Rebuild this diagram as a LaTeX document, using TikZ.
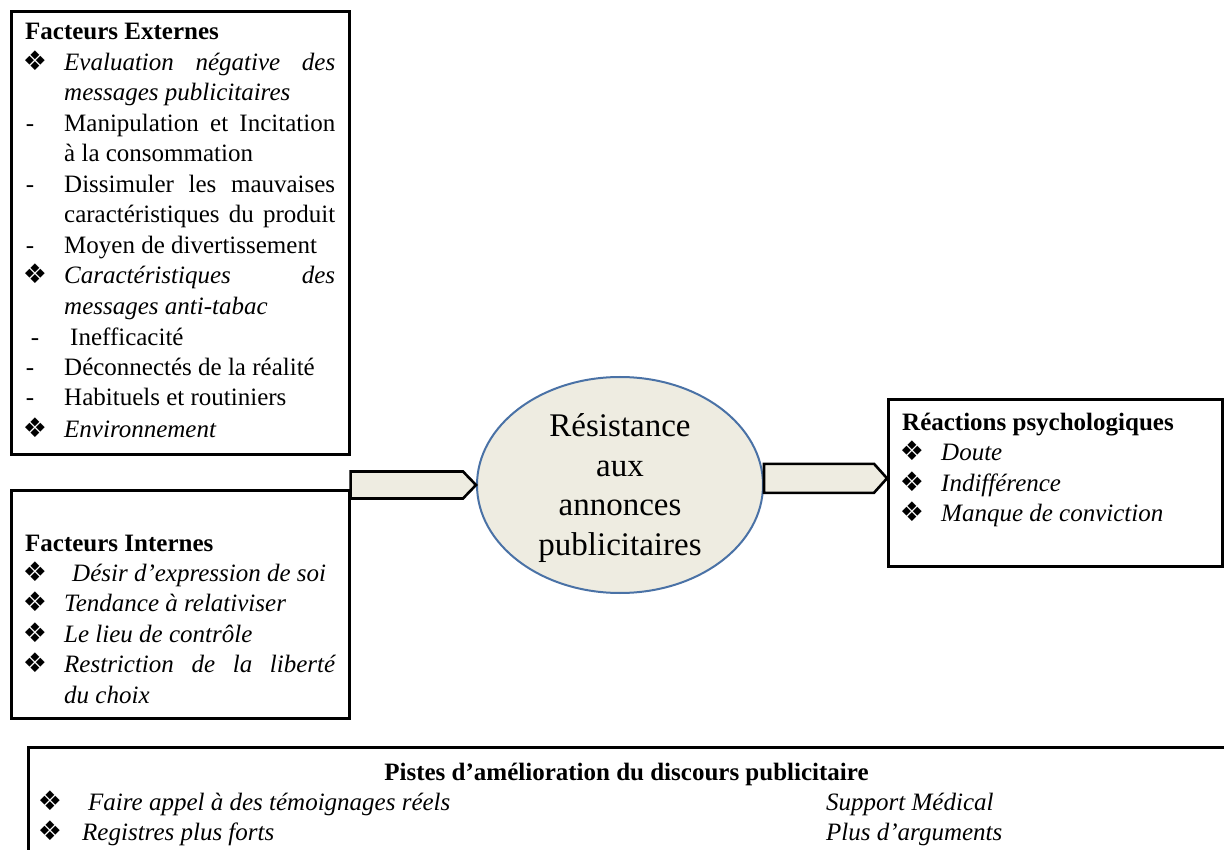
\documentclass[tikz,border=0pt]{standalone}
\usepackage{fontspec}
\usepackage{graphicx}
\setmainfont{Liberation Serif}
\newfontfamily\dv{DejaVu Sans}
\usetikzlibrary{calc,shapes.geometric}
\definecolor{beige}{HTML}{EEECE1}
\definecolor{eblue}{HTML}{4A72A6}
\newcommand{\jl}[1]{\sbox0{#1}\ifdim\wd0>271pt \resizebox{271pt}{\height}{#1}\else\makebox[271pt][s]{#1}\fi}
\begin{document}
\begin{tikzpicture}[x=1pt,y=-1pt,
  box/.style={draw=black,line width=2.6pt,inner sep=0pt,anchor=north west},
  txt/.style={anchor=base west,inner sep=0pt,font=\fontsize{25}{30}\selectfont},
  ttl/.style={txt,font=\fontsize{25}{30}\selectfont\bfseries},
  itm/.style={txt,font=\fontsize{25}{30}\selectfont\itshape},
  bul/.style={anchor=base,inner sep=0pt,font=\dv\fontsize{27}{30}\selectfont},
  dsh/.style={anchor=base,inner sep=0pt,font=\fontsize{25}{30}\selectfont},
  arr/.style={draw=black,fill=beige,line width=2.6pt,line join=miter}]
\clip (0,0) rectangle (1224,850);
\fill[white] (0,0) rectangle (1224,850);
% boxes
\node[box,minimum width=338,minimum height=443] (ext) at (10,10) {};
\node[box,minimum width=338,minimum height=228] (int) at (10,489) {};
\node[box,minimum width=334,minimum height=167] (reac) at (887,398) {};
\node[box,minimum width=1220,minimum height=140] (pist) at (27,746) {};
% ellipse
\node[ellipse,draw=eblue,fill=beige,line width=2pt,minimum width=286,minimum height=216] (ell) at (620,485) {};
\node[align=center,inner sep=0pt,font=\fontsize{33}{39.5}\selectfont] (elt) at ($(ell.center)+(0,3)$) {Résistance\\aux\\annonces\\publicitaires};
% block arrows
\path (ell.west) ++(-13,-13.5) coordinate (la1) ++(0,27) coordinate (la2);
\draw[arr] (ell.west) -- (la1) -- (la1 -| int.east) -- (la2 -| int.east) -- (la2) -- cycle;
\path (reac.west) ++(0,-4.5) coordinate (rt) ++(-13,-14.5) coordinate (ra1) ++(0,29) coordinate (ra2);
\draw[arr] (rt) -- (ra1) -- (ra1 -| ell.east) -- (ra2 -| ell.east) -- (ra2) -- cycle;
% Facteurs Externes
\node[ttl] (e0) at (25,40) {Facteurs Externes};
\node[bul] (eb1) at (35,71) {❖};
\node[itm] (e1) at (64,71) {\jl{Evaluation négative des}};
\node[itm] (e2) at (64,101) {messages publicitaires};
\node[dsh] (ed3) at (30,132) {-};
\node[txt] (e3) at (64,132) {\jl{Manipulation et Incitation}};
\node[txt] (e4) at (64,162) {à la consommation};
\node[dsh] (ed5) at (30,193) {-};
\node[txt] (e5) at (64,193) {\jl{Dissimuler les mauvaises}};
\node[txt] (e6) at (64,223) {\jl{caractéristiques du produit}};
\node[dsh] (ed7) at (30,254) {-};
\node[txt] (e7) at (64,254) {Moyen de divertissement};
\node[bul] (eb8) at (35,284) {❖};
\node[itm] (e8) at (64,284) {\jl{Caractéristiques des}};
\node[itm] (e9) at (64,315) {messages anti-tabac};
\node[dsh] (ed10) at (35,345) {-};
\node[txt] (e10) at (70,345) {Inefficacité};
\node[dsh] (ed11) at (30,376) {-};
\node[txt] (e11) at (64,376) {Déconnectés de la réalité};
\node[dsh] (ed12) at (30,406) {-};
\node[txt] (e12) at (64,406) {Habituels et routiniers};
\node[bul] (eb13) at (35,437) {❖};
\node[itm] (e13) at (64,437) {Environnement};
% Facteurs Internes
\node[ttl] (i0) at (25,551) {Facteurs Internes};
\node[bul] (ib1) at (35,581) {❖};
\node[itm] (i1) at (72,581) {Désir d’expression de soi};
\node[bul] (ib2) at (35,611.5) {❖};
\node[itm] (i2) at (64,611.5) {Tendance à relativiser};
\node[bul] (ib3) at (35,642) {❖};
\node[itm] (i3) at (64,642) {Le lieu de contrôle};
\node[bul] (ib4) at (35,672.5) {❖};
\node[itm] (i4) at (64,672.5) {\jl{Restriction de la liberté}};
\node[itm] (i5) at (64,703) {du choix};
% Reactions
\node[ttl] (r0) at (902,430) {Réactions psychologiques};
\node[bul] (rb1) at (912,460.5) {❖};
\node[itm] (r1) at (941,460.5) {Doute};
\node[bul] (rb2) at (912,491) {❖};
\node[itm] (r2) at (941,491) {Indifférence};
\node[bul] (rb3) at (912,521.5) {❖};
\node[itm] (r3) at (941,521.5) {Manque de conviction};
% Pistes
\node[anchor=base,inner sep=0pt,font=\fontsize{25}{30}\selectfont\bfseries] (p0) at (626.5,780) {Pistes d’amélioration du discours publicitaire};
\node[bul] (pb1) at (50,810) {❖};
\node[itm] (p1) at (88,810) {Faire appel à des témoignages réels};
\node[bul] (pb2) at (50,840) {❖};
\node[itm] (p2) at (82,840) {Registres plus forts};
\node[itm] (p3) at (826,810) {Support Médical};
\node[itm] (p4) at (826,840) {Plus d’arguments};
\end{tikzpicture}
\end{document}
